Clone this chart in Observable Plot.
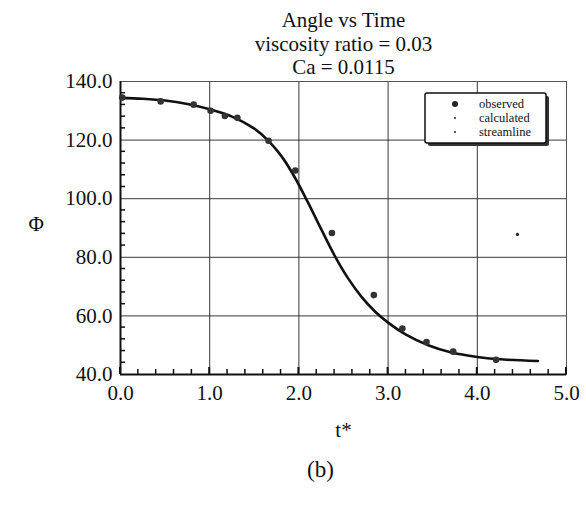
<!DOCTYPE html>
<html>
<head>
<meta charset="utf-8">
<script src="https://cdn.jsdelivr.net/npm/d3@7"></script>
<script src="https://cdn.jsdelivr.net/npm/@observablehq/plot@0.6"></script>
<style>
  html, body { margin: 0; padding: 0; background: #fff; }
  #chart svg { display: block; }
</style>
</head>
<body>
<div id="chart"></div>
<script>
// Observed droplet angle Φ (degrees) against dimensionless time t*
const observedT   = [0.02, 0.45, 0.82, 1.01, 1.17, 1.31, 1.66, 1.96, 2.37, 2.84, 3.16, 3.43, 3.73, 4.21];
const observedPhi = [134.5, 133.2, 132.1, 130.0, 128.2, 127.6, 119.8, 109.6, 88.3, 67.1, 55.7, 51.1, 47.8, 45.0];

// Calculated angle curve
const calculatedT   = [0, 0.25, 0.5, 0.75, 1.0, 1.25, 1.5, 1.65, 1.8, 1.95, 2.1, 2.25, 2.4, 2.55, 2.7, 2.85, 3.0, 3.2, 3.45, 3.7, 4.0, 4.3, 4.68];
const calculatedPhi = [134.4, 134.1, 133.5, 132.3, 130.5, 128.0, 123.9, 120.0, 114.7, 107.5, 98.8, 89.6, 80.6, 72.9, 66.6, 61.6, 57.7, 53.6, 50.0, 47.6, 46.0, 45.1, 44.6];

// Streamline estimate
const streamlineT   = [4.45];
const streamlinePhi = [87.8];

// Axis ticks
const xTicks      = [0, 1, 2, 3, 4, 5];
const yTicks      = [40, 60, 80, 100, 120, 140];
const xMinorTicks = [0.2, 0.4, 0.6, 0.8, 1.2, 1.4, 1.6, 1.8, 2.2, 2.4, 2.6, 2.8, 3.2, 3.4, 3.6, 3.8, 4.2, 4.4, 4.6, 4.8];
const yMinorTicks = [44, 48, 52, 56, 64, 68, 72, 76, 84, 88, 92, 96, 104, 108, 112, 116, 124, 128, 132, 136];

const titleLines  = ["Angle vs Time", "viscosity ratio = 0.03", "Ca = 0.0115"];
const legendItems = ["observed", "calculated", "streamline"];

const observed   = observedT.map((t, i) => ({t, phi: observedPhi[i]}));
const calculated = calculatedT.map((t, i) => ({t, phi: calculatedPhi[i]}));
const streamline = streamlineT.map((t, i) => ({t, phi: streamlinePhi[i]}));

const serif = "'Liberation Serif', 'Times New Roman', serif";
const fmt = d => d.toFixed(1);

const chart = Plot.plot({
  width: 586,
  height: 512,
  marginLeft: 120,
  marginRight: 20,
  marginTop: 81,
  marginBottom: 138,
  x: {domain: [0, 5]},
  y: {domain: [40, 140]},
  style: {fontFamily: serif, fontSize: "21px", background: "#fff", color: "#111"},
  marks: [
    Plot.gridX(xTicks, {stroke: "#222", strokeOpacity: 0.9, strokeWidth: 1}),
    Plot.gridY(yTicks, {stroke: "#222", strokeOpacity: 0.9, strokeWidth: 1}),
    Plot.frame({stroke: "#555", strokeWidth: 1}),
    Plot.ruleX([0], {stroke: "#111", strokeWidth: 2}),
    Plot.ruleY([40], {stroke: "#111", strokeWidth: 2}),
    Plot.axisX(xTicks, {tickSize: 0, tickPadding: 11, tickFormat: fmt, label: null, fontSize: 21}),
    Plot.axisY(yTicks, {tickSize: 0, tickPadding: 8, tickFormat: fmt, label: null, fontSize: 21}),
    Plot.line(calculated, {x: "t", y: "phi", stroke: "#111", strokeWidth: 2.6, curve: "catmull-rom"}),
    Plot.dot(observed, {x: "t", y: "phi", r: 3.3, fill: "#333", stroke: "none"}),
    Plot.dot(streamline, {x: "t", y: "phi", r: 1.6, fill: "#222", stroke: "none"}),
    // three-line title block
    Plot.text([titleLines.join("\n")], {frameAnchor: "top", lineAnchor: "top", dy: -71, fontSize: 21, lineHeight: 1.12}),
    Plot.text(["t*"], {frameAnchor: "bottom", lineAnchor: "middle", dy: 56, fontSize: 21}),
    Plot.text(["(b)"], {frameAnchor: "bottom", lineAnchor: "middle", dx: -23, dy: 95, fontSize: 23}),
    Plot.text(["Φ"], {frameAnchor: "left", lineAnchor: "middle", dx: -92, dy: -4, fontSize: 21})
  ]
});

const svg = d3.select(chart);
const sx = chart.scale("x"), sy = chart.scale("y");
const x0 = sx.apply(0), y0 = sy.apply(40);

// Inward ticks along the bottom and left axes, placed through the plot's scales
const ticks = svg.append("g").attr("stroke", "#111").attr("stroke-width", 1.5);
xMinorTicks.forEach(v => {
  const px = sx.apply(v);
  ticks.append("line").attr("x1", px).attr("x2", px).attr("y1", y0).attr("y2", y0 - 5);
});
xTicks.forEach(v => {
  const px = sx.apply(v);
  ticks.append("line").attr("x1", px).attr("x2", px).attr("y1", y0).attr("y2", y0 - 7).attr("stroke-width", 2);
});
yMinorTicks.forEach(v => {
  const py = sy.apply(v);
  ticks.append("line").attr("x1", x0).attr("x2", x0 + 5).attr("y1", py).attr("y2", py);
});

// Legend box with drop shadow, in the upper-right corner of the frame
const lg = svg.append("g").attr("transform", "translate(425,93)");
lg.append("rect").attr("x", 3).attr("y", 3).attr("width", 121).attr("height", 50).attr("rx", 2).attr("fill", "#333");
lg.append("rect").attr("x", 0).attr("y", 0).attr("width", 121).attr("height", 50).attr("rx", 2)
  .attr("fill", "#fff").attr("stroke", "#111").attr("stroke-width", 1.5);
const rowY = [11, 25, 39];
const rowR = [3, 1, 1];
legendItems.forEach((name, i) => {
  lg.append("circle").attr("cx", 30).attr("cy", rowY[i]).attr("r", rowR[i]).attr("fill", "#222");
  lg.append("text").attr("x", 54).attr("y", rowY[i]).attr("dy", "0.35em")
    .attr("text-anchor", "start")
    .attr("font-family", serif).attr("font-size", 12.5).attr("fill", "#111").text(name);
});

document.getElementById("chart").appendChild(chart);
</script>
</body>
</html>
